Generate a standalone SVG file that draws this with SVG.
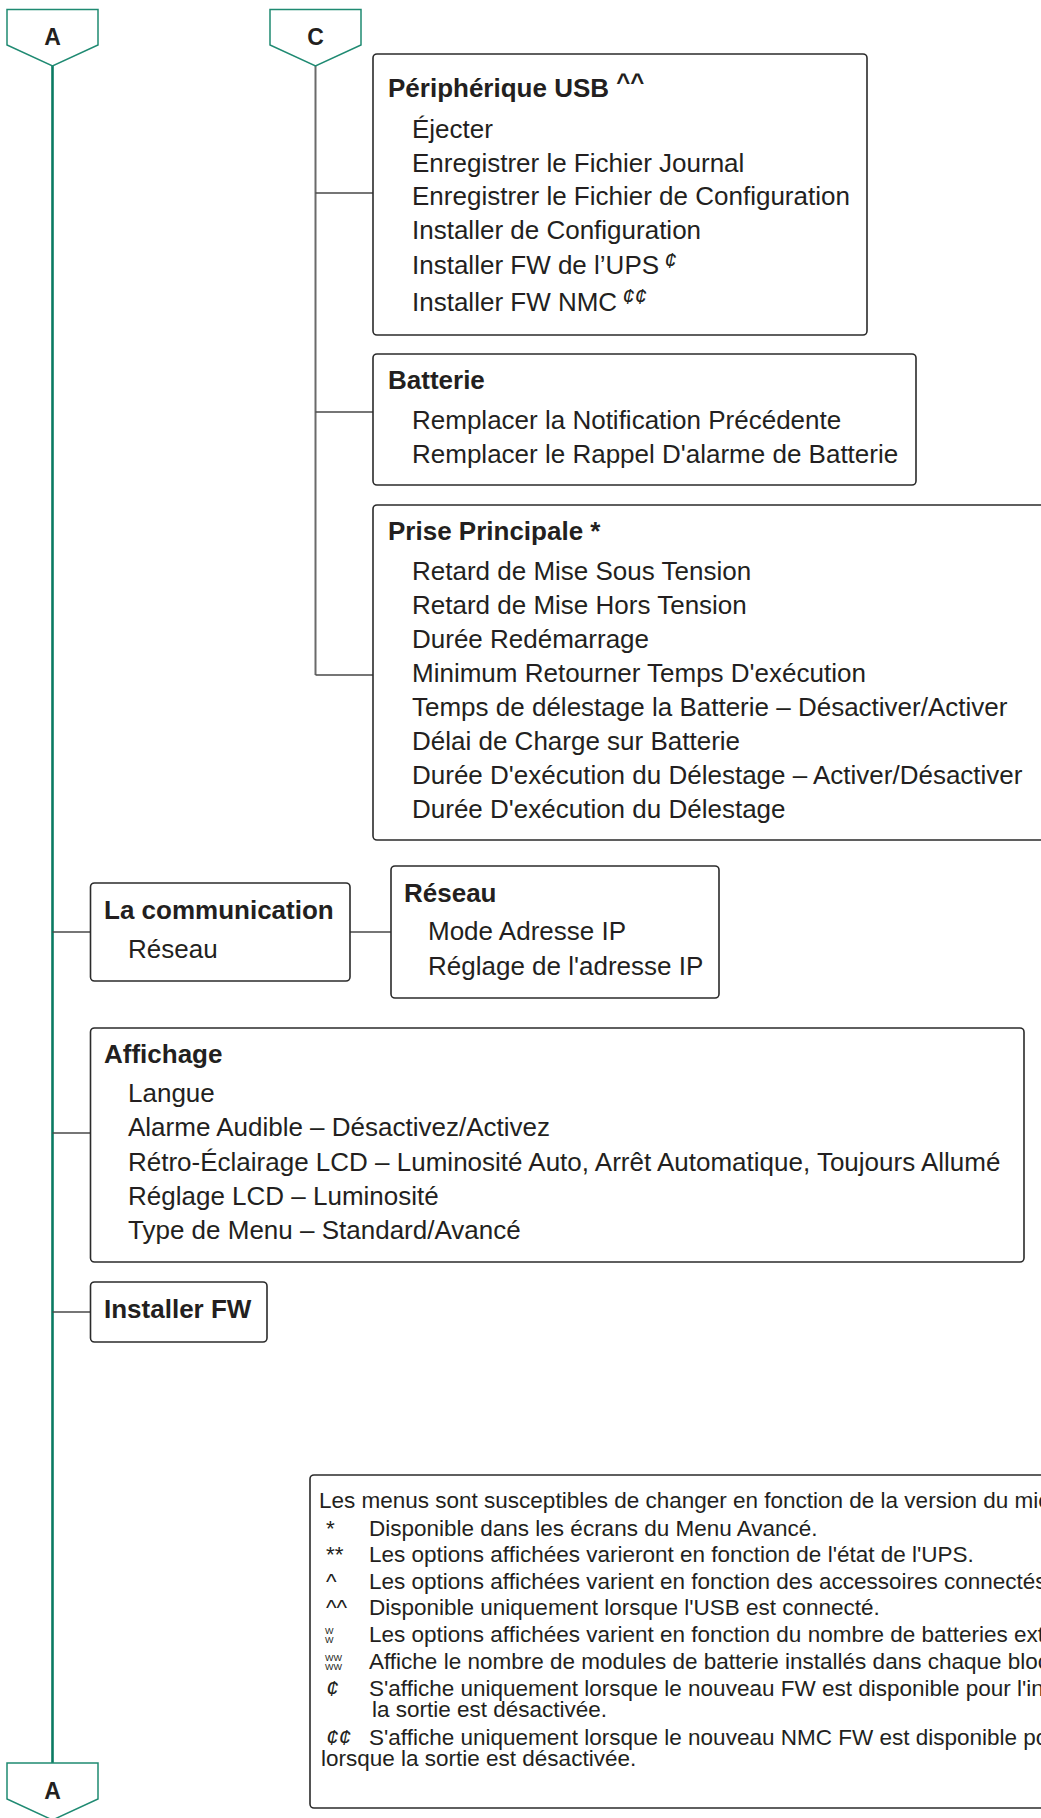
<svg xmlns="http://www.w3.org/2000/svg" width="1041" height="1818" viewBox="0 0 1041 1818">
<style>
text{font-family:"Liberation Sans",Arial,sans-serif;fill:#231f20}
.t{font-size:26px;font-weight:bold}
.i{font-size:26px}
.box{fill:#fff;stroke:#2b2b2b;stroke-width:1.6}
.off{fill:#fff;stroke:#1f8a72;stroke-width:1.5}
.lbl{font-size:23px;font-weight:bold;text-anchor:middle}
.c{fill:none;stroke:#4a4a4a;stroke-width:1.4}
.main{fill:none;stroke:#0a7a62;stroke-width:2.6}
.cl{fill:none;stroke:#6a6a6a;stroke-width:2}
.sup{font-size:22px;font-style:italic;font-weight:normal}
.lg{font-size:22.5px}
.tiny{font-size:9px}
</style>
<rect width="1041" height="1818" fill="#fff"/>
<g id="connectors">
<path class="main" d="M52.5,66 V1763"/>
<path class="cl" d="M315.5,66 V675"/>
<path class="c" d="M315.5,193 H373 M315.5,412 H373 M315.5,675 H373"/>
<path class="c" d="M52.5,932 H90.5 M350,932 H391 M52.5,1133 H90.5 M52.5,1312 H90.5"/>
</g>
<g id="offpage-A-top">
<path class="off" d="M7,9.5 H98 V45 L52.5,66 L7,45 Z"/>
<text class="lbl" x="52.5" y="45">A</text>
</g>
<g id="offpage-C">
<path class="off" d="M270,9.5 H361 V45 L315.5,66 L270,45 Z"/>
<text class="lbl" x="315.5" y="45">C</text>
</g>
<g id="offpage-A-bottom">
<path class="off" d="M7,1763 H98 V1799 L52.5,1820 L7,1799 Z"/>
<text class="lbl" x="52.5" y="1799">A</text>
</g>
<g id="node-usb">
<rect class="box" x="373" y="54" width="494" height="281" rx="4"/>
<text class="t" x="388" y="97">Périphérique USB <tspan font-size="24" dy="-7">^^</tspan></text>
<text class="i" x="412" y="138">Éjecter</text>
<text class="i" x="412" y="172">Enregistrer le Fichier Journal</text>
<text class="i" x="412" y="205">Enregistrer le Fichier de Configuration</text>
<text class="i" x="412" y="239">Installer de Configuration</text>
<text class="i" x="412" y="274">Installer FW de l’UPS <tspan class="sup" dx="-2" dy="-6">¢</tspan></text>
<text class="i" x="412" y="311">Installer FW NMC <tspan class="sup" dx="-2" dy="-7">¢¢</tspan></text>
</g>
<g id="node-batterie">
<rect class="box" x="373" y="354" width="543" height="131" rx="4"/>
<text class="t" x="388" y="389">Batterie</text>
<text class="i" x="412" y="429">Remplacer la Notification Précédente</text>
<text class="i" x="412" y="463">Remplacer le Rappel D'alarme de Batterie</text>
</g>
<g id="node-prise">
<rect class="box" x="373" y="505" width="700" height="335" rx="4"/>
<text class="t" x="388" y="540">Prise Principale *</text>
<text class="i" x="412" y="580">Retard de Mise Sous Tension</text>
<text class="i" x="412" y="614">Retard de Mise Hors Tension</text>
<text class="i" x="412" y="648">Durée Redémarrage</text>
<text class="i" x="412" y="682">Minimum Retourner Temps D'exécution</text>
<text class="i" x="412" y="716">Temps de délestage la Batterie – Désactiver/Activer</text>
<text class="i" x="412" y="750">Délai de Charge sur Batterie</text>
<text class="i" x="412" y="784">Durée D'exécution du Délestage – Activer/Désactiver</text>
<text class="i" x="412" y="818">Durée D'exécution du Délestage</text>
</g>
<g id="node-communication">
<rect class="box" x="90.5" y="883" width="259.5" height="98" rx="4"/>
<text class="t" x="104" y="919">La communication</text>
<text class="i" x="128" y="958">Réseau</text>
</g>
<g id="node-reseau">
<rect class="box" x="391" y="866" width="328" height="132" rx="4"/>
<text class="t" x="404" y="902">Réseau</text>
<text class="i" x="428" y="940">Mode Adresse IP</text>
<text class="i" x="428" y="975">Réglage de l'adresse IP</text>
</g>
<g id="node-affichage">
<rect class="box" x="90.5" y="1028" width="933.5" height="234" rx="4"/>
<text class="t" x="104" y="1063">Affichage</text>
<text class="i" x="128" y="1102">Langue</text>
<text class="i" x="128" y="1136">Alarme Audible – Désactivez/Activez</text>
<text class="i" x="128" y="1171">Rétro-Éclairage LCD – Luminosité Auto, Arrêt Automatique, Toujours Allumé</text>
<text class="i" x="128" y="1205">Réglage LCD – Luminosité</text>
<text class="i" x="128" y="1239">Type de Menu – Standard/Avancé</text>
</g>
<g id="node-installer-fw">
<rect class="box" x="90.5" y="1282" width="176.5" height="60" rx="4"/>
<text class="t" x="104" y="1318">Installer FW</text>
</g>
<g id="legend">
<rect class="box" x="310" y="1475" width="760" height="333" rx="4"/>
<text class="lg" x="319" y="1508">Les menus sont susceptibles de changer en fonction de la version du micrologiciel.</text>
<text class="lg" x="326" y="1536">*</text>
<text class="lg" x="369" y="1536">Disponible dans les écrans du Menu Avancé.</text>
<text class="lg" x="326" y="1562">**</text>
<text class="lg" x="369" y="1562">Les options affichées varieront en fonction de l'état de l'UPS.</text>
<text class="lg" x="326" y="1589">^</text>
<text class="lg" x="369" y="1589">Les options affichées varient en fonction des accessoires connectés.</text>
<text class="lg" x="326" y="1615">^^</text>
<text class="lg" x="369" y="1615">Disponible uniquement lorsque l'USB est connecté.</text>
<text class="tiny" x="325" y="1634">W</text>
<text class="tiny" x="325" y="1643">W</text>
<text class="lg" x="369" y="1642">Les options affichées varient en fonction du nombre de batteries externes.</text>
<text class="tiny" x="325" y="1661">WW</text>
<text class="tiny" x="325" y="1670">WW</text>
<text class="lg" x="369" y="1669">Affiche le nombre de modules de batterie installés dans chaque bloc.</text>
<text class="lg" x="326" y="1696" font-style="italic">¢</text>
<text class="lg" x="369" y="1696">S'affiche uniquement lorsque le nouveau FW est disponible pour l'installation et que</text>
<text class="lg" x="372" y="1717">la sortie est désactivée.</text>
<text class="lg" x="326" y="1745" font-style="italic">¢¢</text>
<text class="lg" x="369" y="1745">S'affiche uniquement lorsque le nouveau NMC FW est disponible pour l'installation et</text>
<text class="lg" x="321" y="1766">lorsque la sortie est désactivée.</text>
</g>
</svg>
